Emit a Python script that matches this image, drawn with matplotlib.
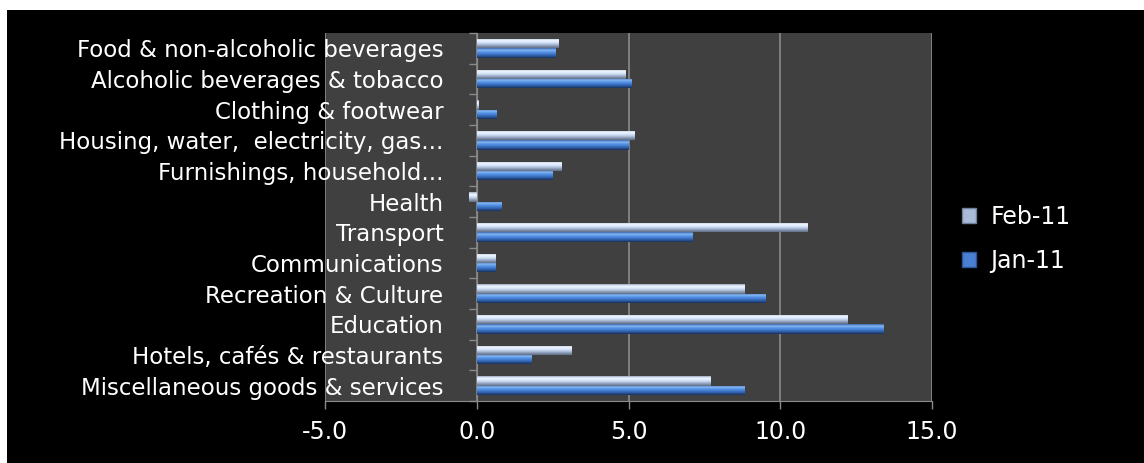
import numpy as np
import matplotlib
matplotlib.use("Agg")
import matplotlib.pyplot as plt
from matplotlib.colors import LinearSegmentedColormap
from matplotlib.patches import Rectangle, Patch

# inflation contributions by COICOP group
categories = [
    "Food & non-alcoholic beverages",
    "Alcoholic beverages & tobacco",
    "Clothing & footwear",
    "Housing, water,  electricity, gas...",
    "Furnishings, household...",
    "Health",
    "Transport",
    "Communications",
    "Recreation & Culture",
    "Education",
    "Hotels, cafés & restaurants",
    "Miscellaneous goods & services",
]
feb11 = [2.7, 4.9, 0.05, 5.2, 2.8, -0.25, 10.9, 0.6, 8.8, 12.2, 3.1, 7.7]
jan11 = [2.6, 5.1, 0.65, 5.0, 2.5, 0.8, 7.1, 0.6, 9.5, 13.4, 1.8, 8.8]
xticks = [-5.0, 0.0, 5.0, 10.0, 15.0]

plt.rcParams['font.family'] = ['DejaVu Sans']
W, H = 1144, 463
fig = plt.figure(figsize=(W / 100, H / 100), dpi=100)
fig.patch.set_facecolor('white')
fig.add_artist(Rectangle((7 / W, 0), 1 - 7 / W, 1 - 10 / H, transform=fig.transFigure,
                         facecolor='black', edgecolor='none', zorder=-5))

ax = fig.add_axes([325 / W, 1 - 401 / H, (932 - 325) / W, (401 - 33) / H])
ax.set_facecolor('#404040')

feb_cmap = LinearSegmentedColormap.from_list(
    'feb', ['#9aaac4', '#eef6ff', '#dceafd', '#b8c8e2', '#8998b2', '#5f6c84'])
jan_cmap = LinearSegmentedColormap.from_list(
    'jan', ['#3a66a6', '#86b7f6', '#5694e4', '#4079cc', '#2c579c', '#17305a'])

y = np.arange(len(categories))
h = 0.3
bars_feb = ax.barh(y - h / 2, feb11, height=h, color='#b4c6e2', zorder=3)
bars_jan = ax.barh(y + h / 2, jan11, height=h, color='#4a80d2', zorder=3)


def shade(bars, cmap):
    grad = np.linspace(0, 1, 64).reshape(-1, 1)
    for b in bars:
        x0, y0 = b.get_x(), b.get_y()
        w, bh = b.get_width(), b.get_height()
        im = ax.imshow(grad, cmap=cmap, aspect='auto', origin='upper',
                       extent=[x0, x0 + w, y0 + bh, y0], zorder=3.5,
                       interpolation='bilinear')
        im.set_clip_path(b)


shade(bars_feb, feb_cmap)
shade(bars_jan, jan_cmap)

ax.set_xlim(-5, 15)
ax.set_ylim(len(categories) - 0.5, -0.5)
ax.set_aspect('auto')

grid_c = '#8a8a8a'
ax.set_xticks(xticks)
ax.set_xticklabels([f"{v:.1f}" for v in xticks])
ax.xaxis.grid(True, color=grid_c, linewidth=1.2, zorder=1)
ax.set_axisbelow(True)
ax.tick_params(axis='x', direction='out', length=6, width=1, color=grid_c,
               labelcolor='white', labelsize=17, pad=8)

ax.spines['left'].set_position(('data', 0))
ax.spines['left'].set_color(grid_c)
ax.spines['left'].set_zorder(2)
ax.spines['bottom'].set_color(grid_c)
for s in ('top', 'right'):
    ax.spines[s].set_visible(False)

ax.set_yticks(np.arange(-0.5, len(categories), 1))
ax.set_yticklabels([])
ax.set_yticks(y, minor=True)
ax.set_yticklabels(categories, minor=True)
ax.tick_params(axis='y', which='major', direction='out', length=6, width=1, color=grid_c)
ax.tick_params(axis='y', which='minor', length=0, pad=24, labelcolor='white', labelsize=16.5)

handles = [Patch(facecolor='#a9bbd8', edgecolor='#6f7f99'),
           Patch(facecolor='#4a80d2', edgecolor='#2b5598')]
leg = fig.legend(handles, ['Feb-11', 'Jan-11'], loc='center left',
                 bbox_to_anchor=(941 / W, 1 - 239 / H), frameon=False,
                 labelcolor='white', fontsize=17,
                 handlelength=0.6, handleheight=0.6,
                 handletextpad=0.6, labelspacing=0.85)

fig.savefig('out.png', dpi=100, facecolor=fig.get_facecolor())
